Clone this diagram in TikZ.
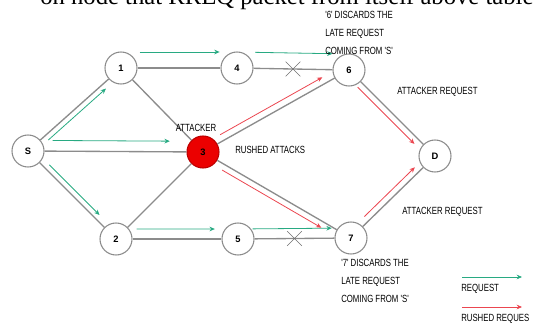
\documentclass[tikz,border=0pt]{standalone}
\usepackage{fontspec}
\setmainfont{Liberation Serif}
\newfontfamily\lblfont[FakeStretch=0.75]{Liberation Sans}
\newfontfamily\numfont{Liberation Sans}
\usetikzlibrary{calc,arrows.meta,shapes.misc}
\definecolor{edgegray}{RGB}{140,140,140}
\definecolor{reqgreen}{RGB}{40,170,130}
\definecolor{rushred}{RGB}{235,70,80}
\definecolor{attred}{RGB}{235,0,0}
\begin{document}
\begin{tikzpicture}[x=0.75pt,y=-0.75pt,
	stn/.style={circle, draw=edgegray, line width=0.8pt, fill=white, minimum size=24pt, inner sep=0pt, font=\numfont\bfseries\fontsize{7}{8}\selectfont},
	link/.style={draw=edgegray, line width=1pt},
	req/.style={draw=reqgreen, line width=0.6pt, -{Stealth[length=4pt,width=3.5pt]}},
	rush/.style={draw=rushred, line width=0.6pt, -{Stealth[length=4pt,width=3.5pt]}},
	lbl/.style={inner sep=0pt, font=\lblfont\fontsize{7.8}{13.5}\selectfont},
	drop/.style={cross out, draw=edgegray!80!black, line width=0.5pt, minimum size=10.5pt, inner sep=0pt}]
	\useasboundingbox (0,0) rectangle (536,326);
	\begin{scope}
	\clip (0,0) rectangle (536,326);
	\node[anchor=base west, inner sep=0pt, font=\fontsize{18.5}{22}\selectfont] (pagetxt) at (40,4) {on node that RREQ packet from itself above table};
	\end{scope}

	\node[stn] (S) at (28,151) {S};
	\node[stn] (n1) at (121,68) {1};
	\node[stn] (n4) at (237,68) {4};
	\node[stn] (n6) at (349,70) {6};
	\node[stn, fill=attred, draw=attred!80!black] (att) at (203,152) {3};
	\node[stn] (D) at (435,156) {D};
	\node[stn] (n2) at (116,239) {2};
	\node[stn] (n5) at (238,239) {5};
	\node[stn] (n7) at (351,238) {7};

	\path[link] (S) -- (n1);
	\path[link] (S) -- (att);
	\path[link] (S) -- (n2);
	\path[link] (n1) -- (n4);
	\path[link] (n4) -- node[drop] (x46) {} (n6);
	\path[link] (n1) -- (att);
	\path[link] (n2) -- (att);
	\path[link] (n2) -- (n5);
	\path[link] (n5) -- node[drop] (x57) {} (n7);
	\path[link] (att) -- (n6);
	\path[link] (att) -- (n7);
	\path[link] (n6) -- (D);
	\path[link] (n7) -- (D);

	\draw[req] ($(S)!0.18!(n1)!4pt!-90:(n1)$) -- ($(S)!0.8!(n1)!4pt!90:(S)$);
	\draw[req] ($(S)!0.14!(att)!8pt!90:(att)$) -- ($(S)!0.81!(att)!8pt!-90:(S)$);
	\draw[req] ($(S)!0.2!(n2)!4pt!90:(n2)$) -- ($(S)!0.77!(n2)!4pt!-90:(S)$);
	\draw[req] ($(n1)!0.16!(n4)!12pt!90:(n4)$) -- ($(n1)!0.85!(n4)!12pt!-90:(n1)$);
	\draw[req] ($(n4)!0.16!(n6)!12pt!90:(n6)$) -- ($(n4)!0.85!(n6)!12pt!-90:(n4)$);
	\draw[req] ($(n2)!0.17!(n5)!7.5pt!90:(n5)$) -- ($(n2)!0.81!(n5)!7.5pt!-90:(n2)$);
	\draw[req] ($(n5)!0.13!(n7)!7.5pt!90:(n7)$) -- ($(n5)!0.83!(n7)!7.5pt!-90:(n5)$);

	\draw[rush] ($(att)!0.14!(n6)!5pt!90:(n6)$) -- ($(att)!0.84!(n6)!5pt!-90:(att)$);
	\draw[rush] ($(att)!0.15!(n7)!4.5pt!-90:(n7)$) -- ($(att)!0.82!(n7)!4.5pt!90:(att)$);
	\draw[rush] ($(n6)!0.15!(D)!4.5pt!-90:(D)$) -- ($(n6)!0.81!(D)!4.5pt!90:(n6)$);
	\draw[rush] ($(n7)!0.21!(D)!4.5pt!90:(D)$) -- ($(n7)!0.81!(D)!4.5pt!-90:(n7)$);

	\node[lbl, anchor=west, align=left] (t6) at (325,33) {'6' DISCARDS THE\\LATE REQUEST\\COMING FROM 'S'};
	\node[lbl] (tatt) at (196,128) {ATTACKER};
	\node[lbl, anchor=west] (trush) at (235,150) {RUSHED ATTACKS};
	\node[lbl, anchor=west] (tar1) at (397,92) {ATTACKER REQUEST};
	\node[lbl, anchor=west] (tar2) at (402,212) {ATTACKER REQUEST};
	\node[lbl, anchor=west, align=left] (t7) at (341,281) {'7' DISCARDS THE\\LATE REQUEST\\COMING FROM 'S'};

	\coordinate (lg1a) at (462,277);
	\coordinate (lg1b) at (522,277);
	\coordinate (lg2a) at (462,307);
	\coordinate (lg2b) at (522,307);
	\draw[req] (lg1a) -- (lg1b);
	\draw[rush] (lg2a) -- (lg2b);
	\node[lbl, anchor=west] (lgreq) at (461,289) {REQUEST};
	\node[lbl, anchor=west] (lgrush) at (461,319) {RUSHED REQUES};
\end{tikzpicture}
\end{document}
